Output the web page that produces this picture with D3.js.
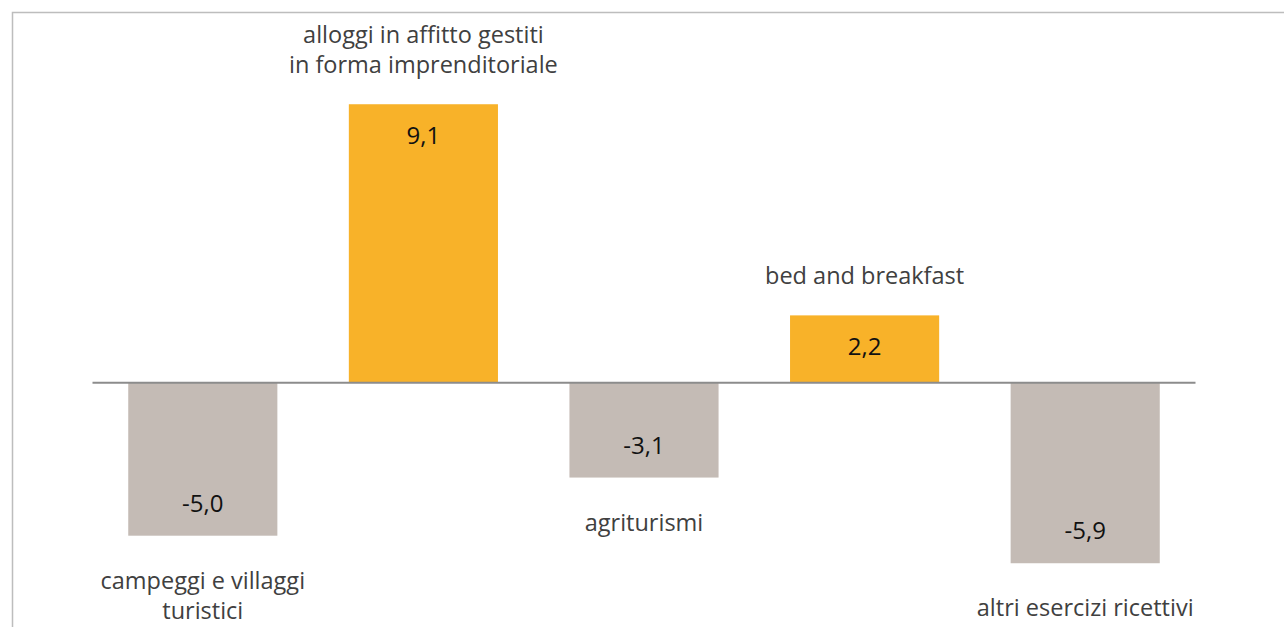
<!DOCTYPE html>
<html>
<head>
<meta charset="utf-8">
<script src="https://cdn.jsdelivr.net/npm/d3@7"></script>
<style>
  html, body { margin: 0; padding: 0; background: #ffffff; }
  svg { display: block; }
  text { font-family: "Open Sans", "Noto Sans", sans-serif; }
</style>
</head>
<body>
<svg id="chart" width="1284" height="627"></svg>
<script>
// Variazione percentuale per tipologia di esercizio extra-alberghiero
const categories = [
  ["campeggi e villaggi", "turistici"],
  ["alloggi in affitto gestiti", "in forma imprenditoriale"],
  ["agriturismi"],
  ["bed and breakfast"],
  ["altri esercizi ricettivi"]
];
const values = [-5.0, 9.1, -3.1, 2.2, -5.9];
const valueLabels = ["-5,0", "9,1", "-3,1", "2,2", "-5,9"];

const W = 1284, H = 627;
const plot = { left: 92.5, right: 1195.5, top: 46.1, bottom: 596.9 };
const colorPos = "#f8b229";
const colorNeg = "#c4bbb5";

const svg = d3.select("#chart");

const idx = d3.range(values.length);
const x = d3.scaleBand()
  .domain(idx)
  .range([plot.left, plot.right])
  .paddingInner(0.324)
  .paddingOuter(0.162);

const y = d3.scaleLinear()
  .domain([-7, 11])
  .range([plot.bottom, plot.top]);

// frame (top and left edges)
svg.append("path")
  .attr("d", `M12.5,${H} L12.5,12.5 L${W},12.5`)
  .attr("fill", "none")
  .attr("stroke", "#bdbdbd")
  .attr("stroke-width", 1.5);

// bars
svg.append("g").selectAll("rect")
  .data(idx)
  .join("rect")
  .attr("x", i => x(i))
  .attr("width", x.bandwidth())
  .attr("y", i => y(Math.max(0, values[i])))
  .attr("height", i => Math.abs(y(values[i]) - y(0)))
  .attr("fill", i => values[i] >= 0 ? colorPos : colorNeg);

// zero axis line
svg.append("line")
  .attr("x1", plot.left).attr("x2", plot.right)
  .attr("y1", y(0)).attr("y2", y(0))
  .attr("stroke", "#8c8c8c")
  .attr("stroke-width", 2);

// value labels inside the bar ends
svg.append("g").selectAll("text")
  .data(idx)
  .join("text")
  .attr("x", i => x(i) + x.bandwidth() / 2)
  .attr("y", i => values[i] >= 0 ? y(values[i]) + 40 : y(values[i]) - 24)
  .attr("text-anchor", "middle")
  .attr("font-size", 24)
  .attr("fill", "#111111")
  .text(i => valueLabels[i]);

// category labels beyond the bar ends
const lineH = 30;
const catG = svg.append("g").selectAll("text")
  .data(idx)
  .join("text")
  .attr("text-anchor", "middle")
  .attr("font-size", 23.5)
  .attr("fill", "#404040")
  .attr("x", i => x(i) + x.bandwidth() / 2)
  .attr("y", i => {
    const n = categories[i].length;
    return values[i] >= 0
      ? y(values[i]) - 31 - (n - 1) * lineH
      : y(values[i]) + 53;
  });

catG.selectAll("tspan")
  .data(i => categories[i].map(s => ({ s, i })))
  .join("tspan")
  .attr("x", d => x(d.i) + x.bandwidth() / 2)
  .attr("dy", (d, k) => k === 0 ? 0 : lineH)
  .text(d => d.s);
</script>
</body>
</html>
